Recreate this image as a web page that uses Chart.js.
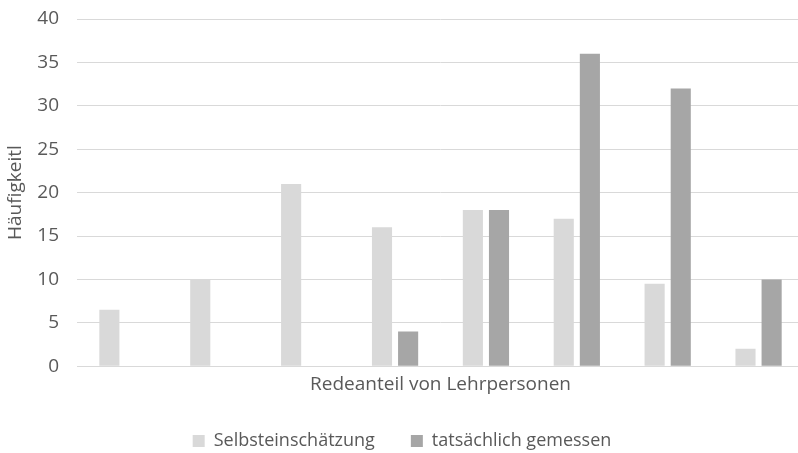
<!DOCTYPE html>
<html>
<head>
<meta charset="utf-8">
<script src="https://cdn.jsdelivr.net/npm/chart.js@4/dist/chart.umd.min.js"></script>
<style>
  html, body { margin: 0; padding: 0; background: #fff; overflow: hidden; }
  #wrap { width: 804px; height: 453px; position: relative; }
</style>
</head>
<body>
<div id="wrap"><canvas id="c"></canvas></div>
<script>
// Eight groups of teacher speaking share (no group labels shown on the axis)
const categories = ['', '', '', '', '', '', '', ''];
const selbsteinschaetzung = [6.5, 10, 21, 16, 18, 17, 9.5, 2];
const tatsaechlichGemessen = [0, 0, 0, 4, 18, 36, 32, 10];
const yTicks = [0, 5, 10, 15, 20, 25, 30, 35, 40];

const textColor = '#595959';
const gridColor = '#d9d9d9';
const fontFamily = '"Open Sans", sans-serif';
const fontSize = 19;

new Chart(document.getElementById('c'), {
  type: 'bar',
  data: {
    labels: categories,
    datasets: [
      {
        label: 'Selbsteinschätzung',
        data: selbsteinschaetzung,
        backgroundColor: '#d9d9d9',
        barPercentage: 0.77,
        categoryPercentage: 0.575
      },
      {
        label: 'tatsächlich gemessen',
        data: tatsaechlichGemessen,
        backgroundColor: '#a6a6a6',
        barPercentage: 0.77,
        categoryPercentage: 0.575
      }
    ]
  },
  options: {
    responsive: true,
    maintainAspectRatio: false,
    animation: false,
    layout: { padding: { top: 19, left: 0, right: 0, bottom: -7 } },
    plugins: {
      tooltip: { enabled: false },
      legend: {
        position: 'bottom',
        labels: {
          boxWidth: 12,
          boxHeight: 12,
          padding: 36,
          color: textColor,
          font: { family: fontFamily, size: 18 }
        }
      }
    },
    scales: {
      x: {
        grid: { display: false, drawTicks: false },
        border: { display: true, color: gridColor },
        ticks: { display: false },
        title: {
          display: true,
          text: 'Redeanteil von Lehrpersonen',
          color: textColor,
          font: { family: fontFamily, size: fontSize },
          padding: { top: 7, bottom: 0 }
        }
      },
      y: {
        min: 0,
        max: 40,
        afterBuildTicks: (axis) => { axis.ticks = yTicks.map(v => ({ value: v })); },
        afterFit: (axis) => { axis.width = 77; },
        grid: {
          color: gridColor,
          lineWidth: 1,
          drawTicks: true,
          tickLength: 18,
          tickColor: 'rgba(0,0,0,0)'
        },
        border: { display: false },
        ticks: {
          color: textColor,
          padding: 0,
          font: { family: fontFamily, size: fontSize }
        },
        title: {
          display: true,
          text: 'Häufigkeitl',
          color: textColor,
          font: { family: fontFamily, size: fontSize },
          padding: { top: 4, bottom: 4 }
        }
      }
    }
  }
});
</script>
</body>
</html>
